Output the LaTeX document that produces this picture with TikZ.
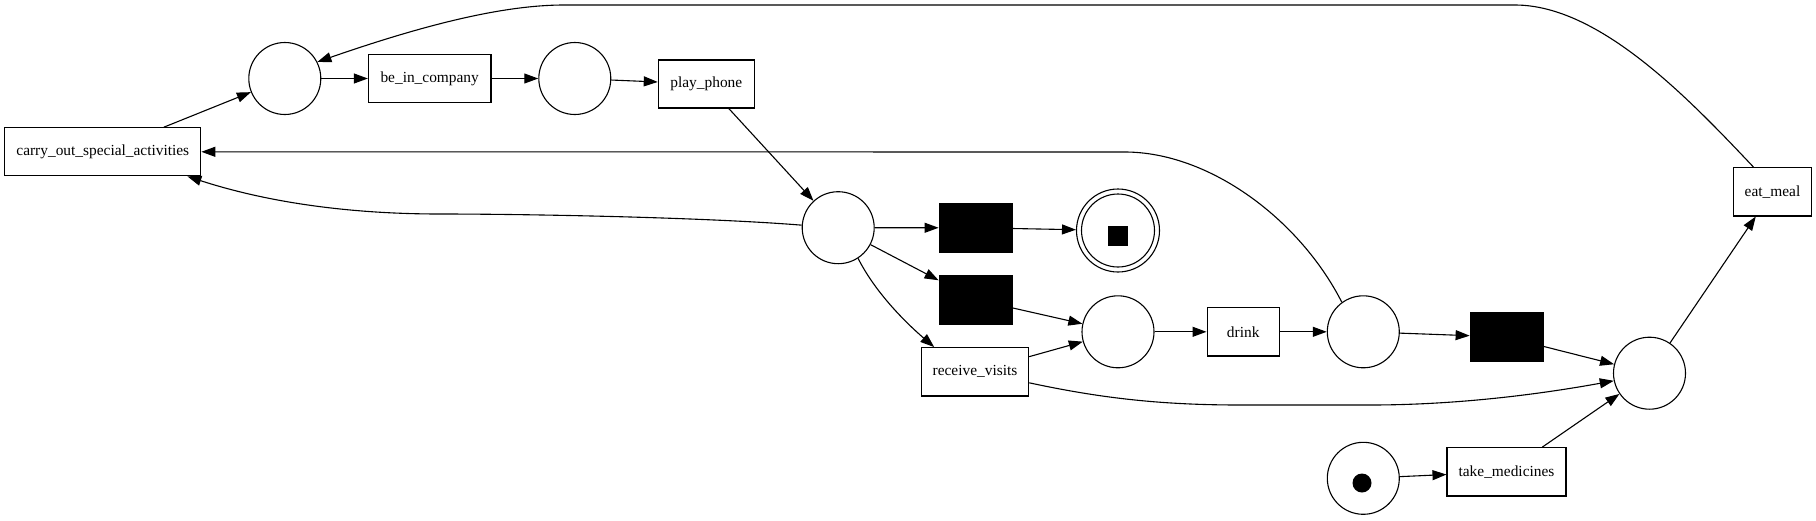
\documentclass[tikz,border=0pt]{standalone}
\usepackage{fontspec}
\setmainfont{Liberation Serif}
\usetikzlibrary{arrows.meta,calc}
\begin{document}
\begin{tikzpicture}[x=1pt,y=-1pt,
 every node/.style={font=\fontsize{15.4}{18}\selectfont},
 place/.style={circle,draw,line width=1.1pt,minimum size=72pt,inner sep=0pt},
 trans/.style={rectangle,draw,line width=1.1pt,inner sep=0pt},
 silent/.style={rectangle,fill=black,draw=black,minimum width=73pt,minimum height=49pt,inner sep=0pt},
 arc/.style={line width=1.1pt,-{Triangle[length=14pt,width=10pt]}},
]
\useasboundingbox (0,0) rectangle (1816,520);
\node[trans,minimum width=196pt,minimum height=48pt] (carry) at (102.8,151.8) {carry\_out\_special\_activities};
\node[place] (p1) at (284.8,78.5) {};
\node[trans,minimum width=122.6pt,minimum height=48.4pt] (be) at (429.7,78.5) {be\_in\_company};
\node[place] (p2) at (574.8,78.5) {};
\node[trans,minimum width=96pt,minimum height=48pt] (play) at (706.3,84) {play\_phone};
\node[place] (p3) at (838.2,227.7) {};
\node[silent] (t1) at (975.3,227.8) {};
\node[circle,draw,line width=1.1pt,minimum size=83pt,inner sep=0pt] (fin) at (1118,230.5) {};
\draw[line width=1.1pt] (fin.center) circle[radius=36.5pt];
\node[fill=black,minimum size=20pt,inner sep=0pt] (fintok) at (1118,236) {};
\node[silent] (t2) at (975.3,299.5) {};
\node[trans,minimum width=107.3pt,minimum height=48.3pt] (rv) at (975,371.8) {receive\_visits};
\node[place] (p4) at (1118,331.8) {};
\node[trans,minimum width=72.3pt,minimum height=48.3pt] (drink) at (1243.2,331.8) {drink};
\node[place] (p5) at (1363.3,331.8) {};
\node[silent] (t3) at (1506.3,337) {};
\node[place] (p6) at (1649.5,373.2) {};
\node[trans,minimum width=77.6pt,minimum height=48.3pt] (eat) at (1772.5,191.8) {eat\_meal};
\node[place] (start) at (1363.3,478.3) {};
\node[circle,fill=black,minimum size=19pt,inner sep=0pt] (tok) at (1362,483) {};
\node[trans,minimum width=119pt,minimum height=48.3pt] (tm) at (1506.5,471.8) {take\_medicines};

\draw[arc] (carry) -- (p1);
\draw[arc] (p1) -- (be);
\draw[arc] (be) -- (p2);
\draw[arc] (p2) -- (play);
\draw[arc] (play) -- (p3);
\draw[arc] (p3) -- (t1);
\draw[arc] (t1) -- (fin);
\draw[arc] (p3) -- (t2);
\draw[arc] (p3.-57) .. controls (875,292) and (905,322) .. ($(rv.north west)+(13.4,0)$);
\draw[arc] (t2) -- (p4);
\draw[arc] (rv) -- (p4);
\draw[arc] (p4) -- (drink);
\draw[arc] (drink) -- (p5);
\draw[arc] (p5) -- (t3);
\draw[arc] (t3) -- (p6);
\draw[arc] (tm) -- (p6);
\draw[arc] (start) -- (tm);
\draw[arc] (p6) -- (eat);
\draw[arc] ($(rv.east)+(0,11)$) .. controls (1100,398) and (1160,405) .. (1240,405) -- (1370,405) .. controls (1450,405) and (1530,396) .. (p6.192);
\draw[arc] ($(eat.north)+(-19,0)$) .. controls (1690,100) and (1600,5) .. (1515,5) -- (564,5) .. controls (500,5) and (418,27) .. (p1.27);
\draw[arc] (p5.126) .. controls (1300,220) and (1210,152) .. (1124.7,152) -- (carry.east);
\draw[arc] (p3.176) .. controls (700,217) and (520,214) .. (440,214) .. controls (340,214) and (260,200) .. ($(carry.south east)+(-14,0)$);
\end{tikzpicture}
\end{document}
